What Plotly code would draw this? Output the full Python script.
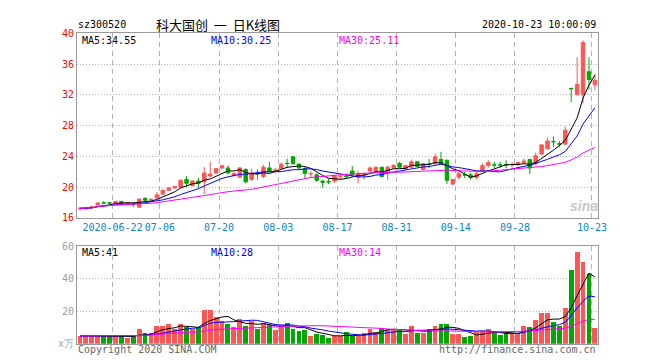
import plotly.graph_objects as go
import pandas as pd

# ---------------- data ----------------
dates = [
    "2020-06-12", "2020-06-15", "2020-06-16", "2020-06-17", "2020-06-18", "2020-06-19",
    "2020-06-22", "2020-06-23", "2020-06-24", "2020-06-29", "2020-06-30",
    "2020-07-01", "2020-07-02", "2020-07-03", "2020-07-06", "2020-07-07", "2020-07-08",
    "2020-07-09", "2020-07-10", "2020-07-13", "2020-07-14", "2020-07-15", "2020-07-16",
    "2020-07-17", "2020-07-20", "2020-07-21", "2020-07-22", "2020-07-23", "2020-07-24",
    "2020-07-27", "2020-07-28", "2020-07-29", "2020-07-30", "2020-07-31",
    "2020-08-03", "2020-08-04", "2020-08-05", "2020-08-06", "2020-08-07", "2020-08-10",
    "2020-08-11", "2020-08-12", "2020-08-13", "2020-08-14", "2020-08-17", "2020-08-18",
    "2020-08-19", "2020-08-20", "2020-08-21", "2020-08-24", "2020-08-25", "2020-08-26",
    "2020-08-27", "2020-08-28", "2020-08-31",
    "2020-09-01", "2020-09-02", "2020-09-03", "2020-09-04", "2020-09-07", "2020-09-08",
    "2020-09-09", "2020-09-10", "2020-09-11", "2020-09-14", "2020-09-15", "2020-09-16",
    "2020-09-17", "2020-09-18", "2020-09-21", "2020-09-22", "2020-09-23", "2020-09-24",
    "2020-09-25", "2020-09-28", "2020-09-29", "2020-09-30",
    "2020-10-09", "2020-10-12", "2020-10-13", "2020-10-14", "2020-10-15", "2020-10-16",
    "2020-10-19", "2020-10-20", "2020-10-21", "2020-10-22", "2020-10-23",
]

opens = [
    17.20, 17.20, 17.35, 17.70, 17.97, 17.97, 17.90, 18.15, 17.75, 17.88,
    17.40, 18.55, 18.38, 18.60, 19.10, 19.60, 19.90, 20.00, 21.00, 20.20,
    20.80, 20.70, 21.45, 21.85, 22.50, 22.50, 21.55, 21.30, 22.30, 21.00,
    21.82, 21.40, 22.50, 22.18, 22.45, 23.12, 23.95, 23.00, 22.40, 21.72,
    21.60, 20.80, 20.72, 20.80, 21.38, 21.45, 22.10, 21.30, 21.58, 22.10,
    22.00, 22.60, 22.00, 22.50, 23.10, 22.40, 22.60, 23.30, 22.30, 23.02,
    23.10, 23.60, 23.50, 20.40, 21.30, 21.62, 21.60, 21.30, 22.10, 22.80,
    22.92, 22.92, 22.92, 22.88, 22.90, 23.20, 23.60, 23.05, 24.30, 25.00,
    25.95, 25.65, 25.60, 32.85, 32.00, 32.00, 35.00, 33.30,
]
highs = [
    17.45, 17.40, 17.55, 18.00, 18.15, 18.10, 18.20, 18.20, 18.05, 18.00,
    18.55, 18.70, 18.55, 19.40, 19.70, 20.05, 20.15, 21.00, 21.45, 20.90,
    21.20, 22.60, 23.30, 22.50, 22.90, 22.85, 21.90, 22.60, 22.45, 22.40,
    22.30, 22.90, 23.30, 22.50, 23.20, 23.70, 24.00, 23.10, 22.60, 22.05,
    21.85, 20.90, 21.10, 21.60, 21.70, 21.70, 22.75, 22.10, 22.00, 22.70,
    22.65, 22.65, 22.80, 22.95, 23.30, 22.90, 23.60, 23.40, 23.10, 23.70,
    24.40, 24.60, 23.60, 21.10, 22.00, 22.00, 21.90, 22.00, 23.10, 23.50,
    23.30, 23.30, 23.50, 23.30, 23.30, 23.75, 23.70, 24.50, 25.60, 26.50,
    26.60, 26.00, 27.90, 32.85, 36.90, 39.10, 36.90, 34.70,
]
lows = [
    16.90, 17.00, 17.25, 17.60, 17.85, 17.85, 17.85, 17.85, 17.70, 17.40,
    17.30, 18.20, 18.30, 18.55, 19.00, 19.50, 19.85, 19.95, 20.00, 20.10,
    19.90, 19.10, 21.30, 21.70, 22.30, 21.70, 21.40, 21.20, 20.50, 20.80,
    21.00, 21.20, 21.95, 21.80, 22.40, 22.50, 22.95, 22.40, 21.10, 21.20,
    20.70, 19.95, 20.40, 20.60, 21.00, 21.10, 21.60, 20.50, 21.00, 21.80,
    21.95, 21.30, 20.90, 22.40, 22.50, 22.30, 22.50, 22.60, 22.20, 22.50,
    22.90, 23.00, 20.40, 20.30, 21.00, 21.20, 21.00, 21.00, 22.00, 22.55,
    22.50, 22.55, 22.45, 22.55, 22.80, 23.10, 21.70, 22.90, 24.20, 24.90,
    25.20, 25.20, 25.50, 31.05, 32.00, 30.90, 32.70, 32.60,
]
closes = [
    17.25, 17.25, 17.45, 17.95, 17.93, 17.93, 18.15, 17.88, 18.00, 17.83,
    18.45, 18.30, 18.42, 19.00, 19.60, 19.90, 20.10, 20.90, 20.50, 20.80,
    20.50, 21.85, 21.70, 22.40, 22.80, 21.85, 21.80, 22.50, 20.70, 21.85,
    21.75, 22.60, 22.00, 22.22, 23.00, 23.08, 23.05, 22.50, 21.80, 21.78,
    20.90, 20.65, 20.68, 21.50, 21.42, 21.40, 21.60, 21.75, 21.62, 22.50,
    22.60, 21.40, 22.60, 22.85, 22.60, 22.80, 23.30, 22.70, 23.05, 22.98,
    23.95, 23.10, 20.90, 21.00, 21.75, 21.58, 21.25, 21.75, 22.80, 23.20,
    22.88, 22.88, 22.88, 22.92, 23.20, 23.40, 22.50, 24.10, 25.50, 26.00,
    25.90, 25.60, 27.40, 32.80, 33.35, 38.80, 34.00, 33.90,
]
volumes = [  # 万手
    4.75, 4.75, 4.75, 4.75, 4.75, 4.75, 4.75, 4.75, 3.4, 4.4,
    8.7, 6.3, 6.3, 10.7, 10.7, 12.3, 8.7, 11.9, 10.3, 8.7,
    10.3, 20.8, 20.8, 16.2, 13.9, 11.9, 10.3, 15.4, 10.7, 13.7,
    9.1, 12.7, 11.3, 8.3, 11.3, 12.9, 8.9, 7.7, 8.3, 4.75,
    5.9, 5.3, 3.6, 4.75, 4.4, 7.3, 4.4, 4.75, 6.3, 9.3,
    7.3, 9.9, 9.3, 8.3, 8.3, 5.9, 10.9, 6.7, 6.3, 8.7,
    10.9, 12.3, 12.3, 5.7, 5.7, 4.0, 4.4, 6.9, 7.9, 8.7,
    6.7, 5.3, 6.7, 5.9, 6.7, 11.1, 10.3, 14.5, 18.6, 18.6,
    13.3, 10.7, 22.2, 45.0, 56.4, 50.3, 43.0, 9.9,
]

tick_dates = ["2020-06-22", "2020-07-06", "2020-07-20", "2020-08-03", "2020-08-17",
              "2020-08-31", "2020-09-14", "2020-09-28", "2020-10-23"]
tick_labels = ["2020-06-22", "07-06", "07-20", "08-03", "08-17",
               "08-31", "09-14", "09-28", "10-23"]
price_ticks = [16, 20, 24, 28, 32, 36, 40]
vol_ticks = [0, 20, 40, 60]
vol_tick_labels = ["x万", "20", "40", "60"]
ma_windows = [5, 10, 30]
price_ma_labels = ["MA5:34.55", "MA10:30.25", "MA30:25.11"]
vol_ma_labels = ["MA5:41", "MA10:28", "MA30:14"]
stock_code = "sz300520"
chart_title = "科大国创  一  日K线图"
timestamp = "2020-10-23 10:00:09"

# ---------------- styling ----------------
W, H = 660, 360
RED = "#ff5555"
GREEN = "#00a800"
MA_COLORS = ["#000000", "#0000ff", "#ff00ff"]
MONO = "DejaVu Sans Mono"
GRID = "#b4b4b4"
BORDER = "#999999"


def px_x(x):
    return x / W


def px_y(y):
    return 1 - y / H


n = len(dates)
xs = list(range(n))
close_s = pd.Series(closes)
vol_s = pd.Series(volumes)
bar_colors = [RED if c >= o else GREEN for o, c in zip(opens, closes)]
tick_pos = [dates.index(d) - 0.5 for d in tick_dates]

fig = go.Figure()

fig.add_trace(go.Candlestick(
    x=xs, open=opens, high=highs, low=lows, close=closes,
    increasing=dict(line=dict(color=RED, width=1), fillcolor=RED),
    decreasing=dict(line=dict(color=GREEN, width=1), fillcolor=GREEN),
    whiskerwidth=0, xaxis="x", yaxis="y", showlegend=False, hoverinfo="skip",
))
for w, col in zip(ma_windows, MA_COLORS):
    fig.add_trace(go.Scatter(
        x=xs, y=close_s.rolling(w, min_periods=1).mean(), mode="lines",
        line=dict(color=col, width=1), xaxis="x", yaxis="y",
        showlegend=False, hoverinfo="skip"))

fig.add_trace(go.Bar(
    x=xs, y=volumes, marker=dict(color=bar_colors, line=dict(width=0)),
    width=0.82, xaxis="x2", yaxis="y2", showlegend=False, hoverinfo="skip"))
for w, col in zip(ma_windows, MA_COLORS):
    fig.add_trace(go.Scatter(
        x=xs, y=vol_s.rolling(w, min_periods=1).mean(), mode="lines",
        line=dict(color=col, width=1), xaxis="x2", yaxis="y2",
        showlegend=False, hoverinfo="skip"))

xdom = [px_x(70), px_x(598)]
common_x = dict(
    domain=xdom, range=[-0.5, n - 0.5], tickmode="array", tickvals=tick_pos,
    showgrid=True, gridcolor=GRID, griddash="5px,4px", gridwidth=1,
    showline=True, linecolor=BORDER, linewidth=1, mirror=True,
    zeroline=False, ticks="", fixedrange=True, tickangle=0,
)
fig.update_layout(
    width=W, height=H,
    margin=dict(l=0, r=0, t=0, b=0),
    paper_bgcolor="white", plot_bgcolor="white",
    boxgap=0.16, bargap=0,
    xaxis=dict(**common_x, anchor="y", ticktext=tick_labels,
               tickfont=dict(family=MONO, size=10, color="#0a86cf"),
               rangeslider=dict(visible=False)),
    yaxis=dict(domain=[px_y(211), px_y(20)], range=[16, 40], tickvals=price_ticks,
               tickfont=dict(family=MONO, size=10, color="#ff0000"),
               showgrid=True, gridcolor=GRID, griddash="1px,2px", gridwidth=1,
               showline=True, linecolor=BORDER, linewidth=1, mirror=True,
               zeroline=False, ticks="", anchor="x"),
    xaxis2=dict(**common_x, anchor="y2", showticklabels=False),
    yaxis2=dict(domain=[px_y(341), px_y(240)], range=[0, 60], tickvals=vol_ticks,
                ticktext=vol_tick_labels,
                tickfont=dict(family=MONO, size=10, color="#a0a0a0"),
                showgrid=True, gridcolor=GRID, griddash="1px,2px", gridwidth=1,
                showline=True, linecolor=BORDER, linewidth=1, mirror=True,
                zeroline=False, ticks="", anchor="x2"),
)


def label(text, x, y, color="#000000", size=10, xanchor="left", family=MONO, **kw):
    fig.add_annotation(text=text, x=px_x(x), y=px_y(y), xref="paper", yref="paper",
                       showarrow=False, xanchor=xanchor, yanchor="middle",
                       font=dict(family=family, size=size, color=color), **kw)


label(stock_code, 69, 11)
label(chart_title, 213, 11, size=13, xanchor="center",
      family="Noto Sans CJK SC")
label(timestamp, 598, 11, xanchor="right")

for txt, xp, col in zip(price_ma_labels, [73, 204, 334], MA_COLORS):
    label(txt, xp, 27, color=col)
for txt, xp, col in zip(vol_ma_labels, [73, 204, 334], MA_COLORS):
    label(txt, xp, 247, color=col)

label("Copyright 2020 SINA.COM", 69, 347, color="#666666")
label("http://finance.sina.com.cn", 598, 347, color="#666666", xanchor="right")
label("<b><i>sina</i></b>", 584, 199, color="#c8c8c8", size=14, xanchor="center",
      family="Liberation Sans")

fig.write_html("out.html")
